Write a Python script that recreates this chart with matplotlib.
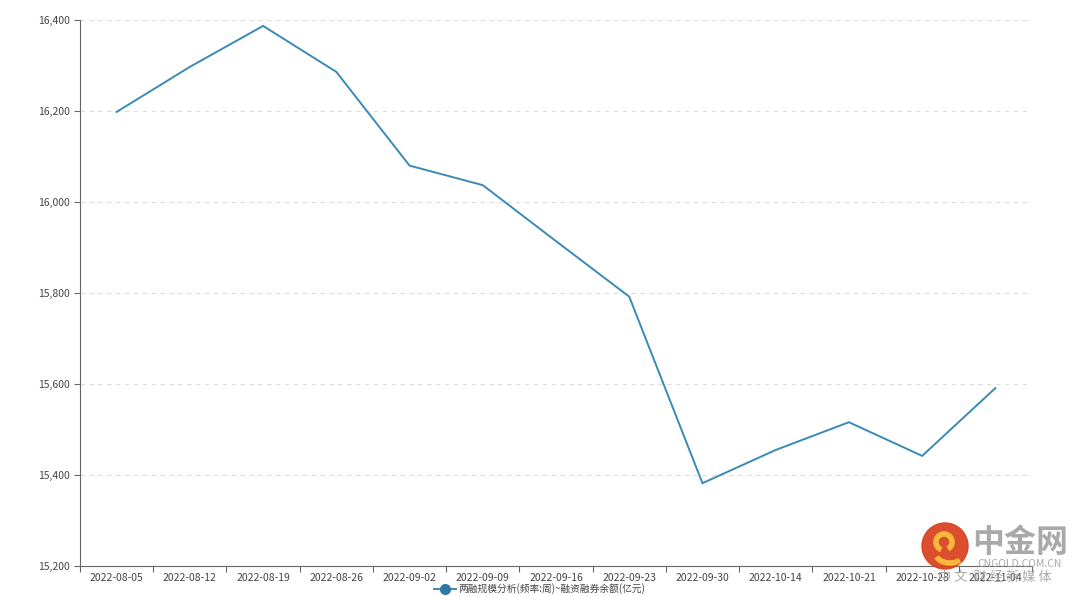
import matplotlib.pyplot as plt
from matplotlib.lines import Line2D
from matplotlib.patches import Circle, Arc
from matplotlib.ticker import FuncFormatter

plt.rcParams['font.family'] = ['Noto Sans CJK SC', 'DejaVu Sans']

dates = ["2022-08-05", "2022-08-12", "2022-08-19", "2022-08-26", "2022-09-02",
         "2022-09-09", "2022-09-16", "2022-09-23", "2022-09-30", "2022-10-14",
         "2022-10-21", "2022-10-28", "2022-11-04"]
balance = [16198, 16297, 16387, 16286, 16080, 16037, 15914, 15792, 15382,
           15455, 15516, 15442, 15591]
yticks = [15200, 15400, 15600, 15800, 16000, 16200, 16400]
series_name = "两融规模分析(频率:周)~融资融券余额(亿元)"

fig = plt.figure(figsize=(10.8, 5.96), dpi=100)
ax = fig.add_axes([80 / 1080, 30 / 596, 952 / 1080, 546 / 596])

x = [i + 0.5 for i in range(len(dates))]
ax.plot(x, balance, color="#3a8ab6", lw=1.4, solid_joinstyle="miter")

ax.set_xlim(0, len(dates))
ax.set_ylim(15200, 16400)
ax.set_yticks(yticks)
ax.yaxis.set_major_formatter(FuncFormatter(lambda v, p: f"{int(v):,}"))
ax.set_xticks(range(len(dates) + 1))
ax.set_xticklabels([])
ax.set_xticks(x, minor=True)
ax.set_xticklabels(dates, minor=True)
ax.tick_params(axis="x", which="minor", length=0, pad=5, labelsize=7.5,
               colors="#444444")
ax.tick_params(axis="x", which="major", length=4, color="#666666")
ax.tick_params(axis="y", length=4, color="#666666", labelsize=7.5,
               labelcolor="#444444", pad=3)

ax.grid(axis="y", color="#dddddd", ls=(0, (4, 4)), lw=0.8)
for s in ["top", "right"]:
    ax.spines[s].set_visible(False)
for s in ["left", "bottom"]:
    ax.spines[s].set_color("#666666")

handle = Line2D([], [], color="#3a8ab6", lw=1.4, marker="o", ms=7,
                markerfacecolor="#2e78a8", markeredgecolor="#2e78a8")
fig.legend([handle], [series_name], loc="center", bbox_to_anchor=(540 / 1080, 1 - 589 / 596),
           frameon=False, fontsize=7, handlelength=2.2, handletextpad=0.3,
           labelcolor="#444444")

# watermark logo (positions in inches from bottom-left)
tr = fig.dpi_scale_trans
fig.patches.append(Circle((9.45, 0.50), 0.23, transform=tr, color="#d8401c",
                          alpha=0.92, zorder=10))
fig.patches.append(Arc((9.44, 0.54), 0.16, 0.16, theta1=-60, theta2=250, transform=tr,
                       color="#f7b93b", lw=4, zorder=11))
fig.patches.append(Arc((9.50, 0.44), 0.30, 0.22, theta1=200, theta2=320, transform=tr,
                       color="#f7b93b", lw=4, zorder=11))
fig.text(1020 / 1080, 1 - 543 / 596, "中金网", fontsize=23, color="#9a9a9a",
         ha="center", va="center", weight="bold", alpha=0.85, zorder=11)
fig.text(1020 / 1080, 1 - 564 / 596, "CNGOLD.COM.CN", fontsize=7.5, color="#9a9a9a",
         ha="center", va="center", alpha=0.85, zorder=11)
fig.text(995 / 1080, 1 - 577 / 596, "中 文  财 经 新 媒 体", fontsize=9.5, color="#9a9a9a",
         ha="center", va="center", alpha=0.85, zorder=11)

fig.savefig("out.png", dpi=100)
